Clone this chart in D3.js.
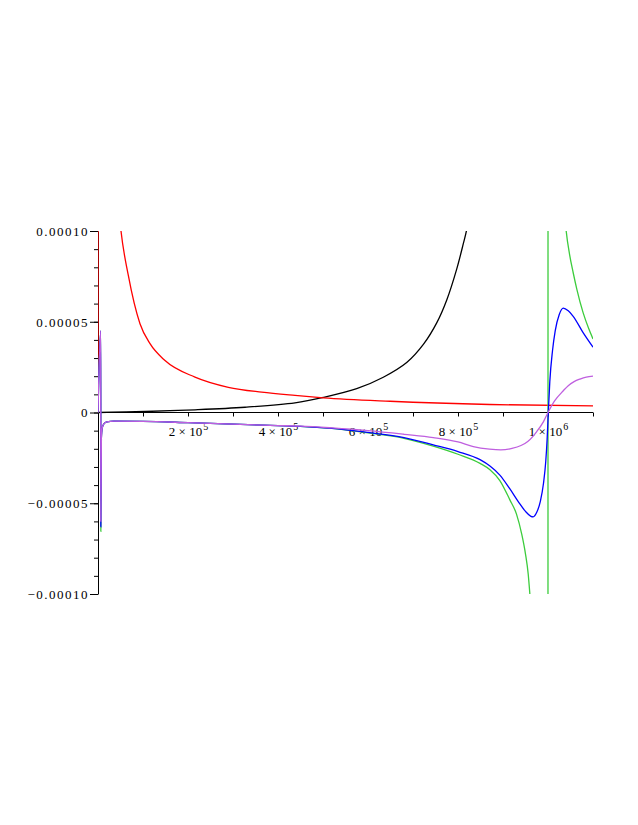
<!DOCTYPE html>
<html>
<head>
<meta charset="utf-8">
<script src="https://cdn.jsdelivr.net/npm/d3@7"></script>
<style>
  body { margin: 0; background: #fff; }
  svg text { font-family: "Liberation Serif", "DejaVu Serif", serif; font-size: 13px; fill: #000; }
</style>
</head>
<body>
<svg id="chart" width="638" height="825"></svg>
<script>
// tick values
const xMajor = [200000, 400000, 600000, 800000, 1000000];
const xMinor = [100000, 300000, 500000, 700000, 900000, 1100000];
const xLabels = [["2", "5"], ["4", "5"], ["6", "5"], ["8", "5"], ["1", "6"]]; // mantissa, exponent
const yMajor = [-0.0001, -0.00005, 0, 0.00005, 0.0001];
const yLabels = ["\u22120.00010", "\u22120.00005", "0", "0.00005", "0.00010"];
const yMinor = d3.range(-10, 11).map(d => d * 0.00001);

// curves as [x, y]
const black = [[0,0],[104400,5.5e-7],[215600,1.5e-6],[326700,2.9e-6],[437800,5.3e-6],[500700,8.3e-6],
  [574900,1.31e-5],[634000,1.94e-5],[686000,2.75e-5],[723000,3.75e-5],[753000,4.95e-5],[775000,6.2e-5],
  [797100,7.9e-5],[811800,9.3e-5],[819300,1.008e-4],[830000,1.2e-4]];

const red = [[0,0],[800,5e-3],[30000,1.75e-4],[40000,1.3e-4],[51100,1.0e-4],[67400,7.55e-5],[93300,4.89e-5],
  [115600,3.79e-5],[148900,2.86e-5],[215500,1.95e-5],[289600,1.39e-5],[363700,1.12e-5],[437800,9.4e-6],
  [500700,8.1e-6],[648900,6.2e-6],[871000,4.4e-6],[1100000,3.6e-6]];

const green = [[0,0],[6000,4.5e-5],[6300,-6.55e-5],[7500,-1.4e-5],[9000,-9e-6],[13000,-6.3e-6],[20000,-5.2e-6],
  [35000,-4.8e-6],[100000,-4.9e-6],[200000,-5.6e-6],[300000,-6.4e-6],[400000,-7.2e-6],[450000,-7.6e-6],
  [520000,-8.8e-6],[600000,-1.12e-5],[680000,-1.42e-5],[745000,-1.85e-5],[800000,-2.3e-5],[849000,-2.8e-5],
  [871000,-3.15e-5],[893000,-3.75e-5],[915000,-4.8e-5],[930000,-5.6e-5],[941600,-6.7e-5],[950000,-7.8e-5],
  [956000,-8.9e-5],[960000,-1.01e-4],[975000,-1.6e-4],[999000,-4e-3],[1001000,4e-3],[1025000,1.6e-4],
  [1040000,1.01e-4],[1048000,8.7e-5],[1056000,7.7e-5],[1064000,6.8e-5],[1078000,5.5e-5],[1090000,4.65e-5],
  [1100000,4.05e-5]];

const blue = [[0,0],[6000,4.5e-5],[6300,-6.3e-5],[7500,-1.4e-5],[9000,-9e-6],[13000,-6.3e-6],[20000,-5.2e-6],
  [35000,-4.8e-6],[100000,-4.9e-6],[200000,-5.6e-6],[300000,-6.4e-6],[400000,-7.2e-6],[450000,-7.6e-6],
  [520000,-8.7e-6],[600000,-1.1e-5],[680000,-1.38e-5],[745000,-1.78e-5],[800000,-2.15e-5],[849000,-2.6e-5],
  [871000,-2.95e-5],[893000,-3.45e-5],[915000,-4.2e-5],[935000,-4.95e-5],[950000,-5.45e-5],[962000,-5.72e-5],
  [967000,-5.75e-5],[975000,-5.5e-5],[983000,-4.9e-5],[990000,-3.9e-5],[995000,-2.7e-5],[998000,-1.5e-5],
  [1000700,0],[1004000,1.7e-5],[1010000,3.4e-5],[1016000,4.5e-5],[1025000,5.4e-5],[1034000,5.75e-5],
  [1045000,5.6e-5],[1056000,5.3e-5],[1078000,4.4e-5],[1100000,3.6e-5]];

const purple = [[0,0],[6000,4.5e-5],[6300,-6.0e-5],[7500,-1.4e-5],[9000,-9e-6],[13000,-6.3e-6],[20000,-5.2e-6],
  [35000,-4.8e-6],[100000,-4.9e-6],[200000,-5.6e-6],[300000,-6.4e-6],[400000,-7.2e-6],[450000,-7.5e-6],
  [520000,-8.5e-6],[600000,-1.0e-5],[680000,-1.2e-5],[745000,-1.38e-5],[800000,-1.62e-5],[834000,-1.88e-5],
  [870000,-2.02e-5],[895000,-2.06e-5],[920000,-1.98e-5],[940000,-1.82e-5],[955000,-1.6e-5],[975000,-1.05e-5],
  [990000,-5e-6],[1000000,0],[1015000,6.5e-6],[1034000,1.2e-5],[1045000,1.48e-5],[1058000,1.7e-5],
  [1071000,1.84e-5],[1085000,1.95e-5],[1100000,2.0e-5]];

//black is smooth, the others have spikes so keep them monotone
const series = [
  {data: black, color: "#000000", curve: d3.curveCatmullRom.alpha(0.5)},
  {data: red, color: "#ff0000", curve: d3.curveMonotoneX},
  {data: green, color: "#3ccc3c", curve: d3.curveMonotoneX},
  {data: blue, color: "#0000ff", curve: d3.curveMonotoneX},
  {data: purple, color: "#bf5fdf", curve: d3.curveMonotoneX}
];

const svg = d3.select("#chart");
const x = d3.scaleLinear().domain([0, 1100000]).range([98, 593]);
const y = d3.scaleLinear().domain([-0.0001, 0.0001]).range([594, 231]);

//Clip the curves to the plotting box
svg.append("defs").append("clipPath").attr("id", "box")
  .append("rect")
  .attr("x", x(0)).attr("y", y(0.0001))
  .attr("width", x(1100000) - x(0)).attr("height", y(-0.0001) - y(0.0001));

//y axis, minor then major ticks
svg.append("g")
  .attr("transform", "translate(" + x(0) + ",0)")
  .call(d3.axisLeft(y).tickValues(yMinor).tickSize(4).tickFormat("").tickSizeOuter(0))
  .call(g => g.select(".domain").remove());
let yAxis = svg.append("g")
  .attr("transform", "translate(" + x(0) + ",0)")
  .call(d3.axisLeft(y).tickValues(yMajor).tickSize(8).tickPadding(1).tickSizeOuter(0)
    .tickFormat((d, i) => yLabels[i]));
yAxis.selectAll("text").style("letter-spacing", "1.5px").attr("dy", "0.34em");

//x axis
svg.append("g")
  .attr("transform", "translate(0," + y(0) + ")")
  .call(d3.axisBottom(x).tickValues(xMinor).tickSize(4).tickFormat("").tickSizeOuter(0))
  .call(g => g.select(".domain").remove());
let xAxis = svg.append("g")
  .attr("transform", "translate(0," + y(0) + ")")
  .call(d3.axisBottom(x).tickValues(xMajor).tickSize(4).tickSizeOuter(0).tickFormat(""));
xAxis.select(".domain").attr("d", "M" + x(0) + ",0H" + x(1100000));

//labels with superscript exponents
xAxis.selectAll(".tick").each(function(d, i) {
  let t = d3.select(this).append("text")
    .attr("y", 23)
    .attr("text-anchor", "middle")
    .attr("fill", "#000");
  t.append("tspan").text(xLabels[i][0] + " \u00d7 10");
  t.append("tspan").attr("dx", 1).attr("dy", -6).style("font-size", "10px").text(xLabels[i][1]);
});

//curves
svg.append("g").attr("clip-path", "url(#box)")
  .selectAll("path")
  .data(series)
  .enter().append("path")
  .attr("d", d => d3.line().x(p => x(p[0])).y(p => y(p[1])).curve(d.curve)(d.data))
  .attr("fill", "none")
  .attr("stroke", d => d.color)
  .attr("stroke-width", 1.3);
</script>
</body>
</html>
